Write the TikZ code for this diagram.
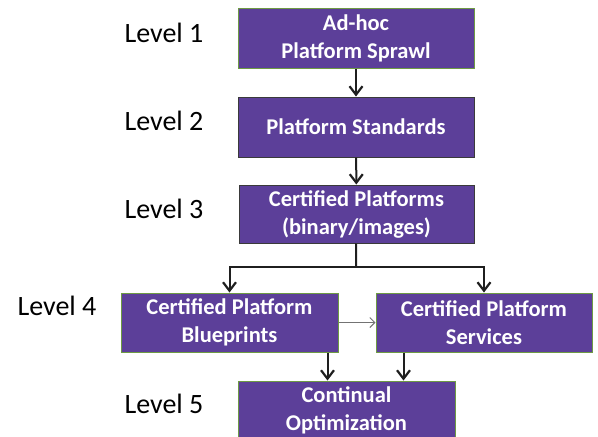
\documentclass[tikz,border=0pt]{standalone}
\usepackage{fontspec}
\setmainfont{Carlito}
\usetikzlibrary{arrows.meta, positioning}
\definecolor{boxfill}{HTML}{5C3F99}
\definecolor{greenline}{HTML}{6E9A44}
\definecolor{darkline}{HTML}{3A3A3A}

\begin{document}
\begin{tikzpicture}[x=1pt, y=-1pt,
        >={Straight Barb[length=8.5pt, width=13pt, line width=2.2pt]},
        box/.style={draw=greenline, line width=1pt, fill=boxfill, text=white,
            font=\fontsize{22.5}{28}\selectfont\bfseries, align=center,
            inner sep=0pt, minimum height=59pt},
        lvl/.style={anchor=base west, font=\fontsize{28}{32}\selectfont},
        arr/.style={->, draw=black!88, line width=2pt}]
    \clip (0, 0) rectangle (598, 437);
    \node[box, minimum width=236pt, minimum height=60pt] (0) at (356, 38) {Ad-hoc\\Platform Sprawl};
    \node[box, draw=darkline, minimum width=236pt, minimum height=60pt] (1) at (356, 127) {Platform Standards};
    \node[box, draw=darkline, minimum width=235pt, minimum height=58pt] (2) at (356.5, 214) {Certified Platforms\\(binary/images)};
    \node[box, minimum width=217pt] (3) at (229.5, 322.5) {Certified Platform\\Blueprints};
    \node[box, minimum width=216pt] (4) at (484, 322.5) {Certified Platform\\Services};
    \node[box, minimum width=217pt] (5) at (346.5, 410.5) {Continual\\Optimization};
    \node[lvl] (l1) at (121, 42) {Level 1};
    \node[lvl] (l2) at (121, 130) {Level 2};
    \node[lvl] (l3) at (121, 218) {Level 3};
    \node[lvl] (l4) at (14, 315) {Level 4};
    \node[lvl] (l5) at (121, 413) {Level 5};
    \coordinate (fork) at (356, 267);
    \path (3.south east) ++(-11, 0) coordinate (p3);
    \path (4.south west) ++(28, 0) coordinate (p4);
    \draw[arr] (0) -- (1);
    \draw[arr] (1) -- (2);
    \draw[arr, -] (2) -- (fork);
    \draw[arr] (fork) -| (3);
    \draw[arr] (fork) -| (4);
    \draw[->, >={Straight Barb[length=5pt, width=10pt, line width=1pt]}, draw=black!55, line width=1pt] (3) -- (4);
    \draw[arr] (p3) -- (p3 |- 5.north);
    \draw[arr] (p4) -- (p4 |- 5.north);
\end{tikzpicture}
\end{document}
